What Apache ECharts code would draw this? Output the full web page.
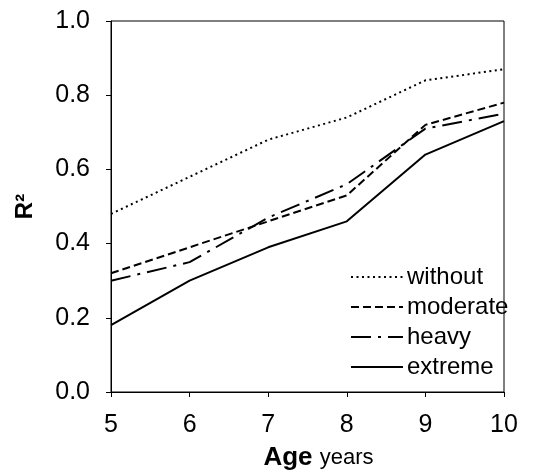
<!DOCTYPE html>
<html>
<head>
<meta charset="utf-8">
<script src="https://cdn.jsdelivr.net/npm/echarts@6/dist/echarts.min.js"></script>
<style>html,body{margin:0;padding:0;background:#fff;}#c{width:540px;height:470px;}</style>
</head>
<body>
<div id="c"></div>
<script>
const ages = [5, 6, 7, 8, 9, 10];
const without = [0.48, 0.58, 0.68, 0.74, 0.84, 0.87];
const moderate = [0.32, 0.39, 0.46, 0.53, 0.72, 0.78];
const heavy = [0.30, 0.35, 0.47, 0.56, 0.71, 0.75];
const extreme = [0.18, 0.30, 0.39, 0.46, 0.64, 0.73];
const seriesNames = ['without', 'moderate', 'heavy', 'extreme'];

const FONT = '"Liberation Sans", Arial, sans-serif';
const pairs = arr => ages.map((a, i) => [a, arr[i]]);
const dashes = {
  without: [2, 3.5],
  moderate: [8, 4],
  heavy: [20, 7, 3, 7],
  extreme: 'solid'
};
const dataMap = {without, moderate, heavy, extreme};

const chart = echarts.init(document.getElementById('c'), null, {renderer: 'canvas'});
chart.setOption({
  animation: false,
  backgroundColor: '#fff',
  grid: {left: 111, right: 36, top: 21, bottom: 78, containLabel: false, outerBoundsMode: 'none',
    show: true, borderColor: '#000', borderWidth: 1, backgroundColor: 'transparent'},
  legend: {
    orient: 'vertical', left: 350, top: 265, padding: 0,
    itemWidth: 52, itemHeight: 10, itemGap: 6,
    itemStyle: {opacity: 0},
    textStyle: {fontSize: 24, fontFamily: FONT, color: '#000', padding: [0, 0, 0, -1]},
    data: seriesNames
  },
  xAxis: {
    type: 'value', min: 5, max: 10, interval: 1,
    name: '{b|Age} {n|years}', nameLocation: 'middle', nameGap: 53,
    nameTextStyle: {padding: [0, 0, 0, 22], rich: {
      b: {fontSize: 26, fontWeight: 'bold', fontFamily: FONT, color: '#000'},
      n: {fontSize: 22, fontFamily: FONT, color: '#000', padding: [0, 0, 0, 4]}
    }},
    axisLine: {show: true, onZero: false, lineStyle: {color: '#000', width: 1}},
    axisTick: {show: true, inside: false, length: 5, lineStyle: {color: '#000'}},
    axisLabel: {fontSize: 25, fontFamily: FONT, color: '#000', margin: 21},
    splitLine: {show: false}
  },
  yAxis: {
    type: 'value', min: 0, max: 1, interval: 0.2,
    name: 'R²', nameLocation: 'middle', nameGap: 74,
    nameTextStyle: {fontSize: 24, fontWeight: 'bold', fontFamily: FONT, color: '#000'},
    axisLine: {show: true, onZero: false, lineStyle: {color: '#000', width: 1}},
    axisTick: {show: true, inside: false, length: 5, lineStyle: {color: '#000'}},
    axisLabel: {fontSize: 25, fontFamily: FONT, color: '#000', margin: 21, formatter: v => v.toFixed(1)},
    splitLine: {show: false}
  },
  series: seriesNames.map(n => ({
    name: n, type: 'line', data: pairs(dataMap[n]),
    symbol: 'none', showSymbol: false,
    lineStyle: {color: '#000', width: 2, type: dashes[n], cap: 'butt'},
    itemStyle: {color: '#000'}
  }))
});
</script>
</body>
</html>
